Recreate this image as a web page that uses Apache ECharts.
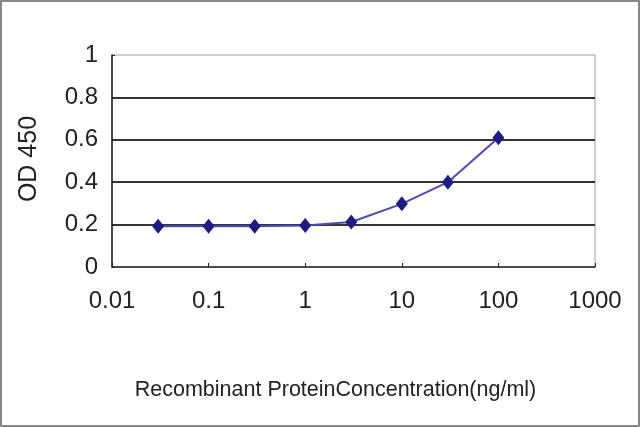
<!DOCTYPE html>
<html><head><meta charset="utf-8">
<script src="https://cdn.jsdelivr.net/npm/echarts@6/dist/echarts.min.js"></script>
<style>html,body{margin:0;padding:0;background:#fff}#c{width:640px;height:427px}</style>
</head><body><div id="c"></div>
<script>
const concentrations = [0.03, 0.1, 0.3, 1, 3, 10, 30, 100];
const odValues = [0.192, 0.192, 0.192, 0.196, 0.212, 0.298, 0.400, 0.610];
const xTickLabels = ['0.01', '0.1', '1', '10', '100', '1000'];
const yTickLabels = ['0', '0.2', '0.4', '0.6', '0.8', '1'];
const xTitle = 'Recombinant ProteinConcentration(ng/ml)';
const yTitle = 'OD 450';

const chart = echarts.init(document.getElementById('c'), null, {renderer: 'canvas'});
const font = 'Liberation Sans, Arial, sans-serif';
chart.setOption({
  animation: false,
  backgroundColor: '#fff',
  graphic: [{type: 'rect', shape: {x: 1, y: 1, width: 638, height: 425},
    style: {fill: 'none', stroke: '#888', lineWidth: 2}, silent: true}],
  grid: {left: 112, right: 45, top: 55, bottom: 160, show: true,
    borderColor: '#a0a0a0', borderWidth: 1, backgroundColor: 'transparent'},
  xAxis: {
    type: 'log', logBase: 10, min: 0.01, max: 1000,
    name: xTitle, nameLocation: 'middle', nameGap: 112,
    nameTextStyle: {fontFamily: font, fontSize: 21.5, color: '#222', padding: [0, 36, 0, 0]},
    axisLine: {show: true, onZero: false, lineStyle: {color: '#222', width: 1.5}},
    axisTick: {show: true, inside: true, length: 4, lineStyle: {color: '#222'}},
    minorTick: {show: false},
    splitLine: {show: false},
    axisLabel: {fontFamily: font, fontSize: 24, color: '#222', margin: 22,
      formatter: (v, i) => xTickLabels[i]}
  },
  yAxis: {
    type: 'value', min: 0, max: 1, interval: 0.2,
    name: yTitle, nameLocation: 'middle', nameGap: 70, nameRotate: 90,
    nameTextStyle: {fontFamily: font, fontSize: 25, color: '#222', padding: [0, 0, 0, 4]},
    axisLine: {show: true, lineStyle: {color: '#222', width: 1.5}},
    axisTick: {show: true, inside: true, length: 3, lineStyle: {color: '#222'}},
    splitLine: {show: true, showMaxLine: false, showMinLine: false,
      lineStyle: {color: '#333', width: 2}},
    axisLabel: {fontFamily: font, fontSize: 24, color: '#222', margin: 14,
      formatter: (v, i) => yTickLabels[i]}
  },
  series: [{
    type: 'line',
    data: concentrations.map((c, i) => [c, odValues[i]]),
    symbol: 'diamond', symbolSize: [12, 15],
    itemStyle: {color: '#1c1c82'},
    lineStyle: {color: '#4a4ac0', width: 2},
    z: 5
  }]
});
</script></body></html>
